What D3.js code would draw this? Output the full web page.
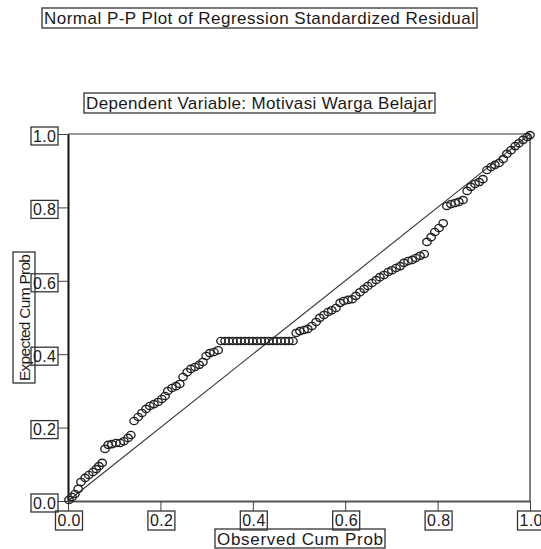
<!DOCTYPE html>
<html><head><meta charset="utf-8">
<script src="https://cdn.jsdelivr.net/npm/d3@7"></script>
<style>body{margin:0;background:#fff;} svg text{font-family:"Liberation Sans",Arial,sans-serif;fill:#1a1a1a;}</style>
</head><body><svg id="c" width="541" height="549"></svg>
<script>
const observed = [
0.002,0.009,0.015,0.022,0.028,0.037,0.045,0.054,0.061,0.067,0.074,
0.080,0.087,0.095,0.104,0.113,0.121,0.130,0.136,
0.143,0.152,0.160,0.169,0.177,0.186,0.195,0.203,0.210,
0.216,0.225,0.234,0.242,
0.249,0.258,0.266,0.275,0.284,0.292,
0.299,0.307,0.316,0.325,
0.331,0.340,0.348,0.357,0.366,0.374,0.383,0.392,0.400,0.409,0.418,0.426,0.435,0.444,0.452,0.461,0.470,0.478,0.487,
0.494,0.502,0.511,0.519,0.528,
0.537,0.545,0.554,0.563,0.571,0.580,
0.589,0.597,0.606,0.615,0.623,
0.632,0.641,0.649,0.658,0.667,0.675,0.684,0.693,0.701,0.710,0.719,
0.727,0.736,0.745,0.753,0.762,0.771,
0.777,0.786,0.794,0.803,0.812,
0.820,0.829,0.838,0.846,0.855,
0.864,0.872,0.881,0.890,0.898,
0.907,0.916,0.924,0.933,0.942,
0.950,0.959,0.968,0.976,0.985,0.994,1.000];
const expected = [
0.003,0.011,0.019,0.033,0.052,0.063,0.071,0.079,0.087,0.095,0.104,
0.142,0.153,0.155,0.158,0.158,0.163,0.172,0.180,
0.218,0.229,0.240,0.251,0.259,0.264,0.270,0.278,0.286,
0.300,0.308,0.313,0.319,
0.338,0.351,0.360,0.365,0.371,0.379,
0.395,0.403,0.406,0.411,
0.436,0.436,0.436,0.436,0.436,0.436,0.436,0.436,0.436,0.436,0.436,0.436,0.436,0.436,0.436,0.436,0.436,0.436,0.436,
0.458,0.463,0.466,0.469,0.477,
0.488,0.499,0.507,0.515,0.520,0.526,
0.540,0.545,0.548,0.550,0.559,
0.569,0.578,0.586,0.594,0.602,0.610,0.616,0.624,0.629,0.635,0.640,
0.649,0.654,0.657,0.662,0.668,0.673,
0.706,0.719,0.733,0.744,0.757,
0.804,0.809,0.812,0.815,0.820,
0.845,0.856,0.864,0.869,0.877,
0.902,0.910,0.916,0.921,0.932,
0.946,0.956,0.967,0.975,0.984,0.992,0.997];
const xTicks = [0.0,0.2,0.4,0.6,0.8,1.0];
const yTicks = [0.0,0.2,0.4,0.6,0.8,1.0];
const titleText = "Normal P-P Plot of Regression Standardized Residual";
const subtitleText = "Dependent Variable: Motivasi Warga Belajar";
const xLabel = "Observed Cum Prob";
const yLabel = "Expected Cum Prob";

const svg = d3.select("#c");
const x = d3.scaleLinear().domain([0,1]).range([68,530]);
const y = d3.scaleLinear().domain([0,1]).range([501,134]);
const fmt = d3.format(".1f");

function boxed(txt, cx, cy, w, h, size, rot) {
  const g = svg.append("g").attr("transform", `translate(${cx},${cy}) rotate(${rot||0})`);
  g.append("rect").attr("x",-w/2).attr("y",-h/2).attr("width",w).attr("height",h)
    .attr("fill","none").attr("stroke","#333").attr("stroke-width",1.3);
  g.append("text").attr("x",0).attr("y",0).attr("dy","0.36em").attr("text-anchor","middle")
    .attr("font-size",size).attr("textLength",w-4).attr("lengthAdjust","spacing").text(txt);
}

boxed(titleText, 259.5, 18, 435, 20, 17);
boxed(subtitleText, 259.5, 103, 351, 20, 17);
boxed(xLabel, 300, 538.5, 170, 19, 17);
boxed(yLabel, 24, 317.5, 131, 22, 15.5, -90);

// frame top & right
svg.append("line").attr("x1",x(0)).attr("x2",x(1)).attr("y1",y(1)).attr("y2",y(1))
  .attr("stroke","#999").attr("stroke-width",2);
svg.append("line").attr("x1",x(1)).attr("x2",x(1)).attr("y1",y(1)).attr("y2",y(0))
  .attr("stroke","#555").attr("stroke-width",1.5);

// axes
const gx = svg.append("g").attr("transform",`translate(0,${y(0)})`)
  .call(d3.axisBottom(x).tickValues(xTicks).tickFormat(fmt).tickSize(10).tickSizeOuter(0));
gx.select(".domain").attr("stroke","#555").attr("stroke-width",2);
gx.selectAll(".tick line").attr("stroke","#444");
gx.selectAll(".tick text").remove();
gx.selectAll(".tick").each(function(d){
  const t = d3.select(this);
  t.append("rect").attr("x",-13).attr("y",10).attr("width",27).attr("height",19)
    .attr("fill","none").attr("stroke","#333").attr("stroke-width",1.3);
  t.append("text").attr("x",0.5).attr("y",19.5).attr("dy","0.36em").attr("text-anchor","middle")
    .attr("font-size",16).attr("textLength",23).attr("lengthAdjust","spacing").text(fmt(d));
});

const gy = svg.append("g").attr("transform",`translate(${x(0)},0)`)
  .call(d3.axisLeft(y).tickValues(yTicks).tickFormat(fmt).tickSize(10).tickSizeOuter(0));
gy.select(".domain").attr("stroke","#111").attr("stroke-width",2);
gy.selectAll(".tick line").attr("stroke","#444");
gy.selectAll(".tick text").remove();
gy.selectAll(".tick").each(function(d){
  const t = d3.select(this);
  t.append("rect").attr("x",-37).attr("y",-7.5).attr("width",27).attr("height",18)
    .attr("fill","none").attr("stroke","#333").attr("stroke-width",1.3);
  t.append("text").attr("x",-23.5).attr("y",1.5).attr("dy","0.36em").attr("text-anchor","middle")
    .attr("font-size",16).attr("textLength",23).attr("lengthAdjust","spacing").text(fmt(d));
});

// diagonal reference line
svg.append("line").attr("x1",x(0)).attr("y1",y(0)).attr("x2",x(1)).attr("y2",y(1))
  .attr("stroke","#333").attr("stroke-width",1.1);

// points
const pts = observed.map((o,i)=>({o, e: expected[i]}));
svg.append("g").selectAll("ellipse").data(pts).join("ellipse")
  .attr("cx", d=>x(d.o)).attr("cy", d=>y(d.e)).attr("rx",4.2).attr("ry",3.6)
  .attr("fill","none").attr("stroke","#222").attr("stroke-width",1.35);
</script></body></html>
